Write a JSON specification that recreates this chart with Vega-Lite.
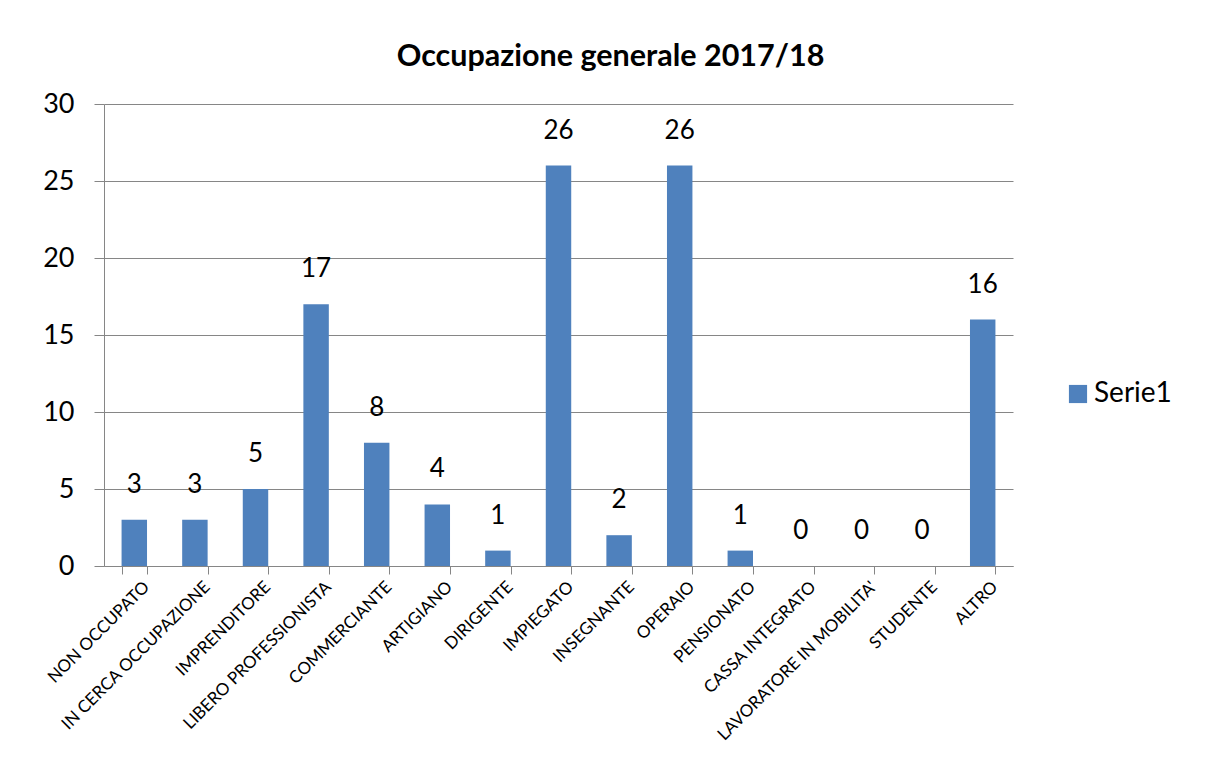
{
  "$schema": "https://vega.github.io/schema/vega-lite/v6.json",
  "autosize": "none",
  "padding": {"left": 104, "top": 104, "right": 195, "bottom": 212},
  "width": 909,
  "height": 462,
  "background": "white",
  "title": {
    "text": "Occupazione generale 2017/18",
    "font": "Lato",
    "fontSize": 30.5,
    "fontWeight": "bold",
    "color": "#000000",
    "anchor": "middle",
    "dx": 52,
    "offset": 18
  },
  "data": {
    "values": [
      {"categoria": "NON OCCUPATO", "valore": 3, "serie": "Serie1"},
      {"categoria": "IN CERCA OCCUPAZIONE", "valore": 3, "serie": "Serie1"},
      {"categoria": "IMPRENDITORE", "valore": 5, "serie": "Serie1"},
      {"categoria": "LIBERO PROFESSIONISTA", "valore": 17, "serie": "Serie1"},
      {"categoria": "COMMERCIANTE", "valore": 8, "serie": "Serie1"},
      {"categoria": "ARTIGIANO", "valore": 4, "serie": "Serie1"},
      {"categoria": "DIRIGENTE", "valore": 1, "serie": "Serie1"},
      {"categoria": "IMPIEGATO", "valore": 26, "serie": "Serie1"},
      {"categoria": "INSEGNANTE", "valore": 2, "serie": "Serie1"},
      {"categoria": "OPERAIO", "valore": 26, "serie": "Serie1"},
      {"categoria": "PENSIONATO", "valore": 1, "serie": "Serie1"},
      {"categoria": "CASSA INTEGRATO", "valore": 0, "serie": "Serie1"},
      {"categoria": "LAVORATORE IN MOBILITA'", "valore": 0, "serie": "Serie1"},
      {"categoria": "STUDENTE", "valore": 0, "serie": "Serie1"},
      {"categoria": "ALTRO", "valore": 16, "serie": "Serie1"}
    ]
  },
  "encoding": {
    "x": {
      "field": "categoria",
      "type": "nominal",
      "sort": null,
      "scale": {"paddingInner": 0.58, "paddingOuter": 0.29},
      "axis": {
        "title": null,
        "labelAngle": -45,
        "labelAlign": "right",
        "labelBaseline": "middle",
        "labelFont": "Lato",
        "labelFontSize": 17,
        "labelColor": "#000000",
        "labelPadding": 10,
        "labelOffset": 12,
        "labelLimit": 400,
        "tickBand": "extent",
        "tickSize": 8,
        "tickColor": "#868686",
        "domainColor": "#868686",
        "grid": false
      }
    },
    "y": {
      "field": "valore",
      "type": "quantitative",
      "scale": {"domain": [0, 30], "nice": false},
      "axis": {
        "title": null,
        "values": [0, 5, 10, 15, 20, 25, 30],
        "labelFont": "Lato",
        "labelFontSize": 27,
        "labelColor": "#000000",
        "labelPadding": 20,
        "tickSize": 10,
        "tickColor": "#868686",
        "domainColor": "#868686",
        "grid": true,
        "gridColor": "#868686",
        "gridWidth": 1
      }
    }
  },
  "layer": [
    {
      "mark": {"type": "bar"},
      "encoding": {
        "color": {
          "field": "serie",
          "type": "nominal",
          "scale": {"range": ["#4F81BD"]},
          "legend": {
            "title": null,
            "orient": "none",
            "legendX": 960,
            "legendY": 276,
            "symbolType": "square",
            "symbolSize": 330,
            "symbolStrokeWidth": 0,
            "labelFont": "Lato",
            "labelFontSize": 28,
            "labelColor": "#000000",
            "labelOffset": 2
          }
        }
      }
    },
    {
      "mark": {"type": "text", "baseline": "middle", "dy": -35, "font": "Lato", "fontSize": 26, "color": "#000000"},
      "encoding": {"text": {"field": "valore", "type": "quantitative"}}
    }
  ],
  "config": {
    "view": {"stroke": null}
  }
}
